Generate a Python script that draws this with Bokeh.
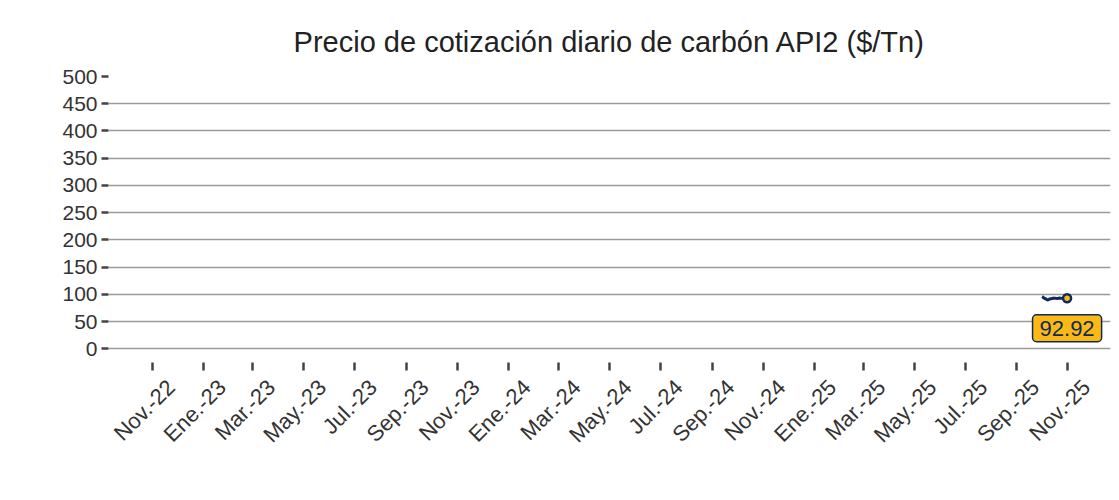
from datetime import datetime
from bokeh.plotting import figure
from bokeh.models import ColumnDataSource, FixedTicker, Range1d, Label, DatetimeAxis
from bokeh.embed import file_html
from bokeh.resources import INLINE

# ---- data ----
dates = ["2025-10-01", "2025-10-02", "2025-10-03", "2025-10-06", "2025-10-07",
         "2025-10-08", "2025-10-09", "2025-10-10", "2025-10-13", "2025-10-14",
         "2025-10-15", "2025-10-16", "2025-10-17", "2025-10-20", "2025-10-21",
         "2025-10-22", "2025-10-23", "2025-10-24", "2025-10-27", "2025-10-28",
         "2025-10-29", "2025-10-30", "2025-10-31"]
prices = [96.0, 95.2, 93.5, 91.2, 90.3, 89.8, 90.4, 91.5, 92.5, 93.0,
          92.8, 93.2, 93.0, 92.6, 93.1, 93.4, 93.0, 92.7, 93.2, 93.5,
          93.1, 92.8, 92.92]
tick_dates = ["2022-11-01", "2023-01-01", "2023-03-01", "2023-05-01", "2023-07-01",
              "2023-09-01", "2023-11-01", "2024-01-01", "2024-03-01", "2024-05-01",
              "2024-07-01", "2024-09-01", "2024-11-01", "2025-01-01", "2025-03-01",
              "2025-05-01", "2025-07-01", "2025-09-01", "2025-11-01"]
tick_labels = ["Nov.-22", "Ene.-23", "Mar.-23", "May.-23", "Jul.-23", "Sep.-23",
               "Nov.-23", "Ene.-24", "Mar.-24", "May.-24", "Jul.-24", "Sep.-24",
               "Nov.-24", "Ene.-25", "Mar.-25", "May.-25", "Jul.-25", "Sep.-25",
               "Nov.-25"]
y_ticks = [0, 50, 100, 150, 200, 250, 300, 350, 400, 450, 500]

DAY = 86400000.0

def ms(s):
    return datetime.strptime(s, "%Y-%m-%d").timestamp() * 1000.0

xs = [datetime.strptime(d, "%Y-%m-%d") for d in dates]
tick_ms = [ms(d) for d in tick_dates]

NAVY = "#0d2a5e"
ORANGE = "#fdb913"
TXT = "#333333"
FONT = "Liberation Sans"

x0, x1 = ms("2022-09-09"), ms("2025-12-22")
shift = 22 * DAY

p = figure(width=1112, height=490, x_axis_type="datetime",
           output_backend="svg", toolbar_location=None,
           title="Precio de cotización diario de carbón API2 ($/Tn)",
           x_range=Range1d(x0, x1),
           y_range=Range1d(-25, 500),
           min_border_left=108, min_border_right=2, min_border_top=76,
           min_border_bottom=128)
p.background_fill_color = "white"
p.border_fill_color = "white"
p.outline_line_color = None

p.title.text_font = FONT
p.title.text_font_size = "29px"
p.title.text_font_style = "normal"
p.title.text_color = "#222222"
p.title.align = "center"
p.title.standoff = 38

# grid
p.xgrid.grid_line_color = None
p.ygrid.grid_line_color = "#9a9a9a"
p.ygrid.grid_line_width = 1.5

# y axis
p.yaxis.ticker = FixedTicker(ticks=y_ticks)
p.yaxis.axis_line_color = None
p.yaxis.major_tick_in = 0
p.yaxis.major_tick_out = 7
p.yaxis.major_tick_line_color = "#444444"
p.yaxis.major_tick_line_width = 2.5
p.yaxis.minor_tick_line_color = None
p.yaxis.major_label_text_font = FONT
p.yaxis.major_label_text_font_size = "21px"
p.yaxis.major_label_text_color = TXT
p.yaxis.major_label_standoff = 4

# x axis: tick marks only
p.xaxis.ticker = FixedTicker(ticks=tick_ms)
p.xaxis.major_label_overrides = {t: "" for t in tick_ms}
p.xaxis.major_label_text_font_size = "1px"
p.xaxis.major_label_standoff = 0
p.xaxis.axis_line_color = None
p.xaxis.major_tick_in = 0
p.xaxis.major_tick_out = 8
p.xaxis.major_tick_line_color = "#444444"
p.xaxis.major_tick_line_width = 2.5
p.xaxis.minor_tick_line_color = None

# x axis labels (offset to sit like the reference)
p.extra_x_ranges = {"lab": Range1d(x0 - shift, x1 - shift)}
lab_axis = DatetimeAxis(x_range_name="lab", ticker=FixedTicker(ticks=tick_ms))
lab_axis.major_label_overrides = {t: l for t, l in zip(tick_ms, tick_labels)}
lab_axis.axis_line_color = None
lab_axis.major_tick_line_color = None
lab_axis.minor_tick_line_color = None
lab_axis.major_tick_in = 0
lab_axis.major_tick_out = 0
lab_axis.major_label_orientation = 0.785398
lab_axis.major_label_text_font = FONT
lab_axis.major_label_text_font_size = "22px"
lab_axis.major_label_text_color = TXT
lab_axis.major_label_standoff = 13
p.add_layout(lab_axis, "below")

src = ColumnDataSource(dict(x=xs, y=prices))
p.line("x", "y", source=src, line_color=NAVY, line_width=3)
p.scatter([xs[-1]], [prices[-1]], size=8, fill_color=ORANGE,
          line_color=NAVY, line_width=2.5)

lbl = Label(x=xs[-1], y=prices[-1], y_offset=-30, text=f"{prices[-1]:.2f}",
            text_align="center", text_baseline="middle",
            text_font=FONT, text_font_size="22px", text_color=NAVY,
            background_fill_color=ORANGE, border_line_color=NAVY,
            border_line_width=1.5, padding=(7, 6), border_radius=4)
p.add_layout(lbl)

open("out.html", "w").write(file_html(p, INLINE))
